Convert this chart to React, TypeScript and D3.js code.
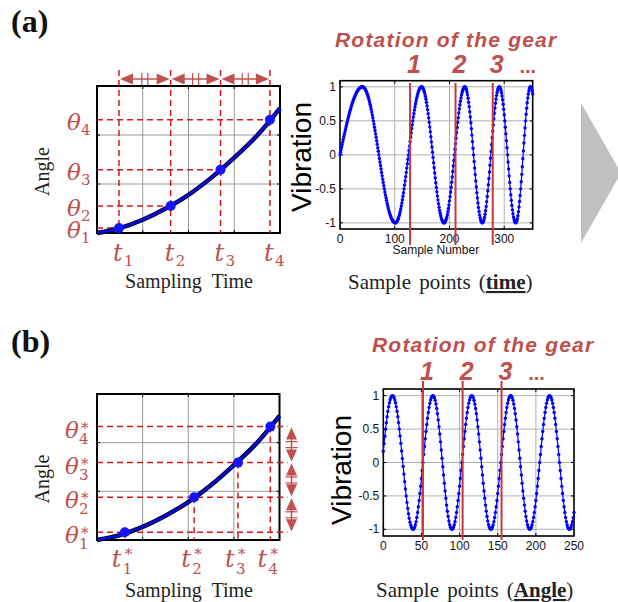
import * as d3 from 'd3';

// ---- data ----
// angle vs time curve (time in grid units 0..4, angle in grid units 0..3)
const curveTimes = [0, 0.5, 1, 1.5, 2, 2.5, 3, 3.5, 4];
const curveAngles = [0, 0.1, 0.27, 0.5, 0.78, 1.13, 1.54, 1.99, 2.55];

// (a) equal time sampling
const timeSampleT = [0.48, 1.61, 2.7, 3.78];
const timeSampleA = [0.1, 0.55, 1.29, 2.31];

// (b) equal angle sampling
const angleSampleT = [0.61, 2.13, 3.09, 3.8];
const angleSampleA = [0.158, 0.877, 1.59, 2.33];

// vibration signals: sample index of each peak / trough (alternating, first is a peak)
const timeSignalLength = 352;
const timeSignalStartPhase = 0;
const timeSignalExtrema = [41, 101, 149, 190, 228, 260, 291, 321, 348];
const timeRotations = [128, 211, 279];
const timeXTicks = [0, 100, 200, 300];

const angleSignalLength = 250;
const angleSignalStartPhase = 0.17;
const angleSignalExtrema = [12, 39, 65, 90, 116, 141, 167, 192, 218, 244];
const angleRotations = [52, 104, 155];
const angleXTicks = [0, 50, 100, 150, 200, 250];

const yTicks = [-1, -0.5, 0, 0.5, 1];

const RED_DASH = '#d01818';
const RED_TEXT = '#c0504d';
const RED_LINE = '#c8383a';
const BLUE = '#0000ff';
const SERIF = '"Liberation Serif", "Times New Roman", serif';
const MATH = '"DejaVu Serif", serif';
const SANS = '"Liberation Sans", Arial, sans-serif';

const buildSignal = (n: number, startPhase: number, extrema: number[]) => {
  const phase = d3
    .scaleLinear()
    .domain([0, ...extrema])
    .range([startPhase, ...extrema.map((_, i) => Math.PI / 2 + i * Math.PI)]);
  return d3.range(0, n + 1).map((s) => ({ s, v: Math.sin(phase(s)) }));
};

type AngleProps = {
  left: number;
  right: number;
  top: number;
  bottom: number;
  times: number[];
  angles: number[];
  starred: boolean;
  labelY: number;
};

const AnglePanel = ({ left, right, top, bottom, times, angles, starred, labelY }: AngleProps) => {
  const x = d3.scaleLinear().domain([0, 4]).range([left, right]);
  const y = d3.scaleLinear().domain([0, 3]).range([bottom, top]);
  const line = d3
    .line<number>()
    .x((_, i) => x(curveTimes[i]))
    .y((d) => y(d))
    .curve(d3.curveMonotoneX);
  const path = line(curveAngles) || '';

  const arrowX = right + 12;

  return (
    <g>
      {[1, 2, 3].map((t) => (
        <line key={'gx' + t} x1={x(t)} x2={x(t)} y1={top} y2={bottom} stroke="#9a9a9a" strokeWidth={1} />
      ))}
      {[1, 2].map((a) => (
        <line key={'gy' + a} x1={left} x2={right} y1={y(a)} y2={y(a)} stroke="#9a9a9a" strokeWidth={1} />
      ))}
      {[1, 2, 3].map((t) => (
        <g key={'tk' + t}>
          <line x1={x(t)} x2={x(t)} y1={bottom} y2={bottom - 3} stroke="#000" />
          <line x1={x(t)} x2={x(t)} y1={top} y2={top + 3} stroke="#000" />
        </g>
      ))}
      {[1, 2].map((a) => (
        <g key={'ak' + a}>
          <line x1={left} x2={left + 3} y1={y(a)} y2={y(a)} stroke="#000" />
          <line x1={right} x2={right - 3} y1={y(a)} y2={y(a)} stroke="#000" />
        </g>
      ))}
      <rect x={left} y={top} width={right - left} height={bottom - top} fill="none" stroke="#000" strokeWidth={2} />

      {/* dashed guides */}
      {times.map((t, i) =>
        starred ? (
          <g key={'d' + i}>
            <line x1={left} x2={arrowX - 4} y1={y(angles[i])} y2={y(angles[i])} stroke={RED_DASH} strokeWidth={1.5} strokeDasharray="6 4" />
            <line x1={x(t)} x2={x(t)} y1={y(angles[i])} y2={bottom} stroke={RED_DASH} strokeWidth={1.5} strokeDasharray="6 4" />
          </g>
        ) : (
          <g key={'d' + i}>
            <line x1={x(t)} x2={x(t)} y1={top - 16} y2={bottom} stroke={RED_DASH} strokeWidth={1.5} strokeDasharray="6 4" />
            <line x1={left} x2={x(t)} y1={y(angles[i])} y2={y(angles[i])} stroke={RED_DASH} strokeWidth={1.5} strokeDasharray="6 4" />
          </g>
        )
      )}

      {/* equal-interval arrows */}
      {times.slice(1).map((t, i) => {
        if (!starred) {
          const x1 = x(times[i]);
          const x2 = x(t);
          const yy = top - 7;
          const m = (x1 + x2) / 2;
          return (
            <g key={'ar' + i} fill={RED_TEXT} stroke={RED_TEXT}>
              <line x1={x1 + 4} x2={x2 - 4} y1={yy} y2={yy} strokeWidth={1.5} />
              <polygon points={`${x1 + 1},${yy} ${x1 + 14},${yy - 5.5} ${x1 + 14},${yy + 5.5}`} stroke="none" />
              <polygon points={`${x2 - 1},${yy} ${x2 - 14},${yy - 5.5} ${x2 - 14},${yy + 5.5}`} stroke="none" />
              <line x1={m - 3} x2={m - 3} y1={yy - 6} y2={yy + 6} strokeWidth={1.2} />
              <line x1={m + 3} x2={m + 3} y1={yy - 6} y2={yy + 6} strokeWidth={1.2} />
            </g>
          );
        }
        const y1 = y(angles[i]);
        const y2 = y(angles[i + 1]);
        const m = (y1 + y2) / 2;
        return (
          <g key={'ar' + i} fill={RED_TEXT} stroke={RED_TEXT}>
            <line x1={arrowX} x2={arrowX} y1={y1 - 4} y2={y2 + 4} strokeWidth={1.5} />
            <polygon points={`${arrowX},${y1 - 1} ${arrowX - 5.5},${y1 - 13} ${arrowX + 5.5},${y1 - 13}`} stroke="none" />
            <polygon points={`${arrowX},${y2 + 1} ${arrowX - 5.5},${y2 + 13} ${arrowX + 5.5},${y2 + 13}`} stroke="none" />
            <line x1={arrowX - 6} x2={arrowX + 6} y1={m - 3} y2={m - 3} strokeWidth={1.2} />
            <line x1={arrowX - 6} x2={arrowX + 6} y1={m + 3} y2={m + 3} strokeWidth={1.2} />
          </g>
        );
      })}

      <path d={path} fill="none" stroke="#000033" strokeWidth={4.5} />
      <path d={path} fill="none" stroke="#0a0ae6" strokeWidth={2.2} />
      {times.map((t, i) => (
        <circle key={'p' + i} cx={x(t)} cy={y(angles[i])} r={5} fill="#1414ff" />
      ))}

      {/* theta labels: one text each, with super/subscript tspans */}
      {angles.map((a, i) => {
        const yy = y(a);
        const tx = starred ? 65 : 67;
        const ty = yy + (starred ? 11 : 10);
        return (
          <text key={'th' + i} fill={RED_TEXT} fontFamily={MATH} fontSize={15}>
            <tspan x={tx} y={ty} fontSize={23} fontStyle="italic">θ</tspan>
            {starred && (
              <tspan x={81} y={yy + 6}>*</tspan>
            )}
            <tspan x={starred ? 79 : 81} y={yy + (starred ? 17 : 15)}>{String(i + 1)}</tspan>
          </text>
        );
      })}

      {/* t labels */}
      {times.map((t, i) => {
        const tx = starred ? x(t) - 13 : x(t) - 6;
        const ty = starred ? bottom + 27 : bottom + 28;
        return (
          <text key={'tl' + i} fill={RED_TEXT} fontFamily={MATH} fontSize={15}>
            <tspan x={tx} y={ty} fontSize={24} fontStyle="italic">t</tspan>
            {starred && (
              <tspan x={tx + 13} y={ty - 8}>*</tspan>
            )}
            <tspan x={tx + 11} y={ty + (starred ? 7 : 5)}>{String(i + 1)}</tspan>
          </text>
        );
      })}

      <text
        transform={`translate(${49},${(top + bottom) / 2 + 12}) rotate(-90)`}
        textAnchor="middle"
        fontFamily={SERIF}
        fontSize={20}
        fill="#222"
      >
        Angle
      </text>
      <text x={189} y={labelY} textAnchor="middle" fontFamily={SERIF} fontSize={20} fill="#222" style={{ whiteSpace: 'pre' }}>
        {'Sampling  Time'}
      </text>
    </g>
  );
};

type SignalProps = {
  left: number;
  right: number;
  top: number;
  bottom: number;
  yPad: number;
  length: number;
  startPhase: number;
  extrema: number[];
  rotations: number[];
  xTicks: number[];
  titleX: number;
  titleY: number;
  digitsY: number;
  rotTop: number;
  rotBottom: number;
  vibX: number;
  vibY: number;
  xLabel: boolean;
  caption: string;
  captionX: number;
  captionY: number;
};

const SignalPanel = (p: SignalProps) => {
  const x = d3.scaleLinear().domain([0, p.length]).range([p.left, p.right]);
  const y = d3.scaleLinear().domain([-p.yPad, p.yPad]).range([p.bottom, p.top]);
  const data = buildSignal(p.length, p.startPhase, p.extrema);
  const line = d3
    .line<{ s: number; v: number }>()
    .x((d) => x(d.s))
    .y((d) => y(d.v));

  return (
    <g>
      <rect x={p.left} y={p.top} width={p.right - p.left} height={p.bottom - p.top} fill="#fff" />
      {p.xTicks.filter((t) => t > 0 && t < p.length).map((t) => (
        <line key={'gx' + t} x1={x(t)} x2={x(t)} y1={p.top} y2={p.bottom} stroke="#b0b0b0" strokeWidth={1} />
      ))}
      {yTicks.map((v) => (
        <line key={'gy' + v} x1={p.left} x2={p.right} y1={y(v)} y2={y(v)} stroke="#b0b0b0" strokeWidth={1} />
      ))}
      {p.xTicks.map((t) => (
        <g key={'tx' + t}>
          <line x1={x(t)} x2={x(t)} y1={p.bottom} y2={p.bottom - 3} stroke="#000" />
          <line x1={x(t)} x2={x(t)} y1={p.top} y2={p.top + 3} stroke="#000" />
          <text x={x(t)} y={p.bottom + 14} textAnchor="middle" fontFamily={SANS} fontSize={12} fill="#111">
            {String(t)}
          </text>
        </g>
      ))}
      {yTicks.map((v) => (
        <g key={'ty' + v}>
          <line x1={p.left} x2={p.left + 3} y1={y(v)} y2={y(v)} stroke="#000" />
          <line x1={p.right} x2={p.right - 3} y1={y(v)} y2={y(v)} stroke="#000" />
          <text x={p.left - 4} y={y(v) + 4} textAnchor="end" fontFamily={SANS} fontSize={12} fill="#111">
            {String(v)}
          </text>
        </g>
      ))}
      <rect x={p.left} y={p.top} width={p.right - p.left} height={p.bottom - p.top} fill="none" stroke="#000" strokeWidth={1.6} />

      <path d={line(data) || ''} fill="none" stroke={BLUE} strokeWidth={1.2} />
      {data.map((d) => (
        <circle key={d.s} cx={x(d.s)} cy={y(d.v)} r={1.7} fill={BLUE} />
      ))}

      {p.rotations.map((r) => (
        <line key={'r' + r} x1={x(r)} x2={x(r)} y1={p.rotTop} y2={p.rotBottom} stroke={RED_LINE} strokeWidth={2} />
      ))}

      <text x={p.titleX} y={p.titleY} fontFamily={SANS} fontWeight="bold" fontStyle="italic" fontSize={21} letterSpacing={1.2} fill={RED_TEXT}>
        Rotation of the gear
      </text>
      {p.rotations.map((r, i) => (
        <text key={'n' + r} x={x(r) + 4} y={p.digitsY} textAnchor="middle" fontFamily={SANS} fontWeight="bold" fontStyle="italic" fontSize={25} fill={RED_TEXT}>
          {String(i + 1)}
        </text>
      ))}
      <text x={x(p.rotations[2]) + 35} y={p.digitsY} textAnchor="middle" fontFamily={SANS} fontWeight="bold" fontSize={20} fill={RED_TEXT}>
        ...
      </text>

      <text transform={`translate(${p.vibX},${p.vibY}) rotate(-90)`} textAnchor="middle" fontFamily={SANS} fontSize={28} fill="#000">
        Vibration
      </text>
      {p.xLabel && (
        <text x={(p.left + p.right) / 2 - 0.5} y={p.bottom + 25} textAnchor="middle" fontFamily={SANS} fontSize={12} fill="#111">
          Sample Number
        </text>
      )}
      <text x={p.captionX} y={p.captionY} fontFamily={SERIF} fontSize={21} wordSpacing={3} fill="#222">
        {'Sample points ('}
        <tspan fontWeight="bold" textDecoration="underline" style={{ textDecoration: 'underline' }}>
          {p.caption}
        </tspan>
        {')'}
      </text>
    </g>
  );
};

export default function App() {
  return (
    <svg width={618} height={602} style={{ position: 'absolute', left: 0, top: 0, background: '#fff' }}>
      <rect width={618} height={602} fill="#fff" />
      <text x={11} y={32} fontFamily={SERIF} fontWeight="bold" fontSize={32} fill="#111">(a)</text>
      <text x={11} y={352} fontFamily={SERIF} fontWeight="bold" fontSize={32} fill="#111">(b)</text>

      <AnglePanel left={97} right={280} top={86} bottom={233} times={timeSampleT} angles={timeSampleA} starred={false} labelY={288} />
      <AnglePanel left={97} right={279.5} top={394} bottom={540} times={angleSampleT} angles={angleSampleA} starred={true} labelY={597} />

      <SignalPanel
        left={340}
        right={532.7}
        top={80.7}
        bottom={229}
        yPad={1.09}
        length={timeSignalLength}
        startPhase={timeSignalStartPhase}
        extrema={timeSignalExtrema}
        rotations={timeRotations}
        xTicks={timeXTicks}
        titleX={335}
        titleY={47}
        digitsY={73}
        rotTop={83}
        rotBottom={245}
        vibX={311}
        vibY={157}
        xLabel={true}
        caption="time"
        captionX={348}
        captionY={289}
      />
      <SignalPanel
        left={383.3}
        right={574}
        top={389}
        bottom={536}
        yPad={1.1}
        length={angleSignalLength}
        startPhase={angleSignalStartPhase}
        extrema={angleSignalExtrema}
        rotations={angleRotations}
        xTicks={angleXTicks}
        titleX={372}
        titleY={352}
        digitsY={380}
        rotTop={381}
        rotBottom={540}
        vibX={351}
        vibY={470}
        xLabel={false}
        caption="Angle"
        captionX={376}
        captionY={597}
      />

      <polygon points="581,103 621,173 581,243" fill="#c0c0c0" />
    </svg>
  );
}
